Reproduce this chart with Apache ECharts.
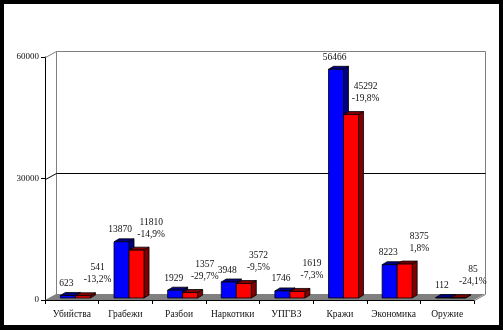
<!DOCTYPE html>
<html><head><meta charset="utf-8">
<script src="https://cdn.jsdelivr.net/npm/echarts@6/dist/echarts.min.js"></script>
<style>
html,body{margin:0;padding:0;background:#000;width:503px;height:330px;overflow:hidden}
#c{position:absolute;left:4px;top:4px;width:495px;height:321px;background:#fff}
</style>
</head><body><div id="c"></div>
<script>
// ---- data ----
const categories = ['Убийства','Грабежи','Разбои','Наркотики','УПГВЗ','Кражи','Экономика','Оружие'];
const prevValues = [623, 13870, 1929, 3948, 1746, 56466, 8223, 112];
const currValues = [541, 11810, 1357, 3572, 1619, 45292, 8375, 85];
const changeLabels = ['-13,2%','-14,9%','-29,7%','-9,5%','-7,3%','-19,8%','1,8%','-24,1%'];
const yTicks = [0, 30000, 60000];

// ---- styling constants ----
const DX = 11, DY = -6;        // depth of the 3D box
const BDX = 5, BDY = -3;       // depth of each bar
const BAR_SHIFT_Y = -2;        // bars sit slightly back on the floor
const FONT = '"Liberation Serif", "Times New Roman", serif';
const TXT = '#111';
const GRAY = '#808080';

const chart = echarts.init(document.getElementById('c'), null, {renderer: 'canvas'});

function frameItem(params, api) {
  const bw = api.size([1, 0])[0];
  const xl = Math.round(api.coord([0, 0])[0] - bw / 2);
  const xr = Math.round(api.coord([categories.length - 1, 0])[0] + bw / 2);
  const y0 = Math.round(api.coord([0, yTicks[0]])[1]);
  const yM = Math.round(api.coord([0, yTicks[1]])[1]);
  const yT = Math.round(api.coord([0, yTicks[2]])[1]);
  const line = (x1, y1, x2, y2, color) => ({
    type: 'line', shape: {x1: x1 + 0.5, y1: y1 + 0.5, x2: x2 + 0.5, y2: y2 + 0.5},
    style: {stroke: color, lineWidth: 1}
  });
  return {
    type: 'group',
    children: [
      {type: 'polygon', shape: {points: [[xl, y0], [xr, y0], [xr + DX, y0 + DY], [xl + DX, y0 + DY]]},
       style: {fill: GRAY}},
      line(xl + DX, yT + DY, xl + DX, y0 + DY, GRAY),
      line(xl + DX, yT + DY, xr + DX, yT + DY, GRAY),
      line(xr + DX, yT + DY, xr + DX, y0 + DY, GRAY),
      line(xl, yT, xl + DX, yT + DY, GRAY),
      line(xr + DX, y0 + DY, xr, y0, GRAY),
      line(xl + DX, yM + DY, xr + DX, yM + DY, '#000'),
      line(xl, yM, xl + DX, yM + DY, '#000')
    ]
  };
}

function barItemFactory(seriesIdx) {
  const front = seriesIdx === 0 ? '#0000ff' : '#ff0000';
  const dark = seriesIdx === 0 ? '#000080' : '#800000';
  return function (params, api) {
    const i = api.value(0), v = api.value(1);
    const bw = api.size([1, 0])[0];
    const c = api.coord([i, 0]);
    const base = c[1] + BAR_SHIFT_Y;
    const top = api.coord([i, v])[1] + BAR_SHIFT_Y;
    const w = 0.28 * bw;
    const left = c[0] + (seriesIdx === 0 ? -0.213 : 0.067) * bw;
    const right = left + w;
    const stroke = {stroke: '#000', lineWidth: 0.8};
    const children = [
      {type: 'polygon', shape: {points: [[right, top], [right + BDX, top + BDY], [right + BDX, base + BDY], [right, base]]},
       style: Object.assign({fill: dark}, stroke)},
      {type: 'polygon', shape: {points: [[left, top], [right, top], [right + BDX, top + BDY], [left + BDX, top + BDY]]},
       style: Object.assign({fill: dark}, stroke)},
      {type: 'rect', shape: {x: left, y: top, width: w, height: base - top},
       style: Object.assign({fill: front}, stroke)}
    ];
    const ts = (text, x, y) => ({
      type: 'text', z2: 10,
      style: {text: text, x: x, y: y, align: 'center', verticalAlign: 'middle',
              fill: TXT, fontSize: 9.5, fontFamily: FONT}
    });
    if (seriesIdx === 0) {
      children.push(ts(String(prevValues[i]), c[0] - 0.1 * bw, top - 12));
    } else {
      const lx = c[0] + 0.48 * bw;
      children.push(ts(String(currValues[i]), lx, top - 28));
      children.push(ts(changeLabels[i], lx, top - 16));
    }
    return {type: 'group', children: children};
  };
}

chart.setOption({
  animation: false,
  grid: {left: 41, right: 25, top: 53, bottom: 25},
  xAxis: {
    type: 'category', data: categories, boundaryGap: true,
    axisLine: {show: true, lineStyle: {color: '#000', width: 1}},
    axisTick: {show: true, length: 4, interval: 0, lineStyle: {color: '#000'}},
    axisLabel: {color: TXT, fontSize: 9.5, fontFamily: FONT, margin: 9, interval: 0}
  },
  yAxis: {
    type: 'value', min: yTicks[0], max: yTicks[2], interval: yTicks[1] - yTicks[0],
    axisLine: {show: true, lineStyle: {color: '#000', width: 1}},
    axisTick: {show: true, length: 4, lineStyle: {color: '#000'}},
    axisLabel: {color: TXT, fontSize: 9, fontFamily: FONT, margin: 6, formatter: v => String(v)},
    splitLine: {show: false}
  },
  series: [
    {type: 'custom', z: 1, silent: true, data: [[0, 0]], renderItem: frameItem},
    {type: 'custom', z: 2, silent: true, clip: false,
     data: prevValues.map((v, i) => [i, v]), renderItem: barItemFactory(0)},
    {type: 'custom', z: 3, silent: true, clip: false,
     data: currValues.map((v, i) => [i, v]), renderItem: barItemFactory(1)}
  ]
});
</script>
</body></html>
